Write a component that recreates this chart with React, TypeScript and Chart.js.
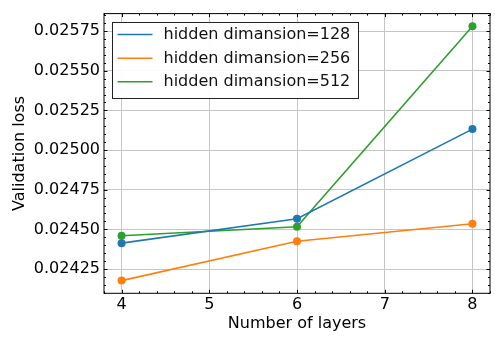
import React, { useEffect, useRef } from 'react';
import { Chart, registerables } from 'chart.js';
Chart.register(...registerables);

const layers = [4, 6, 8];
const loss128 = [0.024413, 0.024567, 0.025132];
const loss256 = [0.024177, 0.024425, 0.024535];
const loss512 = [0.02446, 0.024516, 0.02578];
const seriesLabels = ['hidden dimansion=128', 'hidden dimansion=256', 'hidden dimansion=512'];
const seriesColors = ['#1f77b4', '#ff7f0e', '#2ca02c'];
const xTicks = [4, 5, 6, 7, 8];
const yTicks = [0.02425, 0.0245, 0.02475, 0.025, 0.02525, 0.0255, 0.02575];
const xLimits = [3.8, 8.2];
const yLimits = [0.024097, 0.02586];
const xMinorStep = 0.2;
const yMinorStep = 0.00005;

const FONT = "'DejaVu Sans', sans-serif";

const framePlugin = {
  id: 'frameTicks',
  afterDatasetsDraw(chart: any) {
    const { ctx, chartArea: a, scales } = chart;
    const xs = scales.x;
    const ys = scales.y;
    ctx.save();
    ctx.strokeStyle = '#000';
    ctx.lineWidth = 1;
    const vx = (v: number, len: number) => {
      const px = Math.round(xs.getPixelForValue(v)) + 0.5;
      ctx.beginPath();
      ctx.moveTo(px, a.bottom);
      ctx.lineTo(px, a.bottom - len);
      ctx.moveTo(px, a.top);
      ctx.lineTo(px, a.top + len);
      ctx.stroke();
    };
    const vy = (v: number, len: number) => {
      const py = Math.round(ys.getPixelForValue(v)) + 0.5;
      ctx.beginPath();
      ctx.moveTo(a.left, py);
      ctx.lineTo(a.left + len, py);
      ctx.moveTo(a.right, py);
      ctx.lineTo(a.right - len, py);
      ctx.stroke();
    };
    const nx = Math.round((xLimits[1] - xLimits[0]) / xMinorStep);
    for (let i = 0; i <= nx; i++) {
      const v = xLimits[0] + i * xMinorStep;
      const isMajor = xTicks.some((t) => Math.abs(t - v) < 1e-6);
      vx(v, isMajor ? 3.5 : 2);
    }
    const y0 = Math.ceil(yLimits[0] / yMinorStep);
    const y1 = Math.floor(yLimits[1] / yMinorStep);
    for (let k = y0; k <= y1; k++) {
      const v = k * yMinorStep;
      const isMajor = yTicks.some((t) => Math.abs(t - v) < 1e-9);
      vy(v, isMajor ? 3.5 : 2);
    }
    ctx.lineWidth = 1;
    ctx.strokeRect(a.left, a.top, a.right - a.left, a.bottom - a.top);
    ctx.restore();
  },
};

const legendPlugin = {
  id: 'innerLegend',
  afterDraw(chart: any) {
    const { ctx, chartArea: a } = chart;
    const ds = chart.data.datasets;
    ctx.save();
    ctx.font = `16px ${FONT}`;
    const maxW = Math.max(...ds.map((d: any) => ctx.measureText(d.label).width));
    const left = a.left + 8;
    const top = a.top + 8.5;
    const textOff = 51.5;
    const w = textOff + maxW + 8;
    const h = 76;
    ctx.fillStyle = 'rgba(255,255,255,0.9)';
    ctx.fillRect(left, top, w, h);
    ctx.strokeStyle = '#222';
    ctx.lineWidth = 1;
    ctx.strokeRect(Math.round(left) + 0.5, Math.round(top) + 0.5, Math.round(w), Math.round(h));
    ds.forEach((d: any, i: number) => {
      const cy = top + 12.5 + i * 23.6;
      ctx.strokeStyle = d.borderColor;
      ctx.lineWidth = 1.5;
      ctx.beginPath();
      ctx.moveTo(left + 5.5, cy);
      ctx.lineTo(left + 40.5, cy);
      ctx.stroke();
      ctx.fillStyle = '#111';
      ctx.textBaseline = 'middle';
      ctx.textAlign = 'left';
      ctx.fillText(d.label, left + textOff, cy + 0.5);
    });
    ctx.restore();
  },
};

export default function App() {
  const ref = useRef<HTMLCanvasElement>(null);
  useEffect(() => {
    document.body.style.margin = '0';
    const series = [loss128, loss256, loss512];
    const chart = new Chart(ref.current as HTMLCanvasElement, {
      type: 'line',
      data: {
        datasets: series.map((s, i) => ({
          label: seriesLabels[i],
          data: layers.map((x, j) => ({ x, y: s[j] })),
          borderColor: seriesColors[i],
          backgroundColor: seriesColors[i],
          borderWidth: 1.6,
          pointRadius: 4,
          pointHoverRadius: 4,
          pointBorderWidth: 0,
          fill: false,
          tension: 0,
        })),
      },
      options: {
        animation: false,
        responsive: false,
        devicePixelRatio: 1,
        layout: { padding: { top: 5.5, right: 5, left: 0, bottom: 0 } },
        plugins: { legend: { display: false }, tooltip: { enabled: false } },
        scales: {
          x: {
            type: 'linear',
            min: xLimits[0],
            max: xLimits[1],
            afterBuildTicks: (s: any) => {
              s.ticks = xTicks.map((v) => ({ value: v }));
            },
            afterFit: (s: any) => {
              s.height = 44.7;
            },
            grid: { color: '#c6c6c6', lineWidth: 1, drawTicks: false },
            border: { display: false },
            ticks: {
              color: '#000',
              font: { family: FONT, size: 16 },
              padding: 2,
              maxRotation: 0,
              callback: (v: any) => String(v),
            },
            title: {
              display: true,
              text: 'Number of layers',
              color: '#000',
              font: { family: FONT, size: 16 },
              padding: { top: 0, bottom: 5 },
            },
          },
          y: {
            type: 'linear',
            min: yLimits[0],
            max: yLimits[1],
            afterBuildTicks: (s: any) => {
              s.ticks = yTicks.map((v) => ({ value: v }));
            },
            afterFit: (s: any) => {
              s.width = 104;
            },
            grid: { color: '#c6c6c6', lineWidth: 1, drawTicks: false },
            border: { display: false },
            ticks: {
              color: '#000',
              font: { family: FONT, size: 16 },
              padding: 4,
              callback: (v: any) => Number(v).toFixed(5),
            },
            title: {
              display: true,
              text: 'Validation loss',
              color: '#000',
              font: { family: FONT, size: 16 },
              padding: { top: 10, bottom: 0 },
            },
          },
        },
      },
      plugins: [framePlugin, legendPlugin],
    } as any);
    return () => chart.destroy();
  }, []);
  return (
    <div style={{ position: 'fixed', left: 0, top: 0, width: 495, height: 338 }}>
      <canvas ref={ref} width={495} height={338} />
    </div>
  );
}
